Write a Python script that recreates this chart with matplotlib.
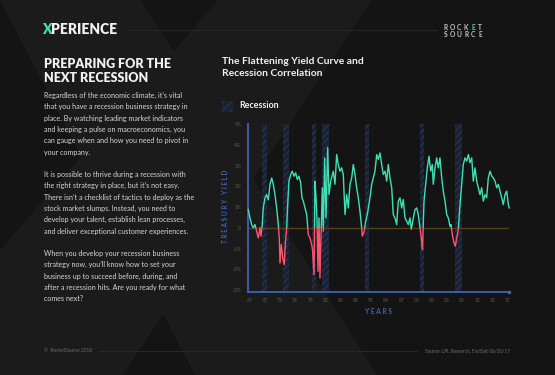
import matplotlib.pyplot as plt
from matplotlib.patches import Polygon, Rectangle

W, H = 555, 375


def fx(x): return x / W


def fy(y): return 1 - y / H


# --- data (10y-3m treasury spread, %) ---
years = [1966.80, 1967.14, 1967.47, 1967.79, 1968.12, 1968.46, 1968.78, 1969.11, 1969.31, 1969.56,
         1969.76, 1970.10, 1970.43, 1970.75, 1971.08, 1971.42, 1971.73, 1972.07, 1972.40, 1972.72,
         1972.92, 1973.06, 1973.31, 1973.59, 1973.90, 1974.10, 1974.38, 1974.57, 1974.83, 1975.17,
         1975.48, 1975.82, 1976.15, 1976.47, 1976.80, 1977.14, 1977.39, 1977.65, 1977.99, 1978.32,
         1978.64, 1978.97, 1979.31, 1979.50, 1979.76, 1979.96, 1980.16, 1980.35, 1980.55, 1980.75,
         1980.94, 1981.14, 1981.40, 1981.60, 1981.87, 1982.13, 1982.46, 1982.72, 1983.06, 1983.57,
         1983.90, 1984.24, 1984.55, 1984.89, 1985.22, 1985.54, 1985.88, 1986.21, 1986.53, 1986.86,
         1987.20, 1987.51, 1987.85, 1988.18, 1988.50, 1988.83, 1989.17, 1989.29, 1989.62, 1989.96,
         1990.27, 1990.81, 1991.14, 1991.46, 1991.79, 1992.13, 1992.44, 1992.78, 1993.11, 1993.43,
         1993.77, 1994.10, 1994.42, 1994.75, 1995.09, 1995.40, 1995.74, 1996.07, 1996.39, 1996.72,
         1997.06, 1997.37, 1997.71, 1998.05, 1998.36, 1998.70, 1998.95, 1999.35, 1999.68, 2000.02,
         2000.33, 2000.67, 2001.00, 2001.16, 2001.46, 2001.79, 2002.11, 2002.44, 2002.78, 2003.09,
         2003.29, 2003.63, 2003.96, 2004.28, 2004.61, 2004.95, 2005.26, 2005.60, 2005.94, 2006.25,
         2006.59, 2006.78, 2007.04, 2007.37, 2007.63, 2007.91, 2008.22, 2008.56, 2008.89, 2009.21,
         2009.54, 2009.88, 2010.20, 2010.53, 2010.87, 2011.18, 2011.52, 2011.85, 2012.17, 2012.50,
         2012.84, 2013.15, 2013.49, 2013.82, 2014.14, 2014.48, 2014.81, 2015.13, 2015.46, 2015.80,
         2016.11, 2016.45, 2016.78, 2017.10, 2017.43, 2017.77, 2018.09, 2018.28]
spread = [0.88, 0.48, 0.16, 0.00, 0.16, -0.16, -0.48, 0.00, -0.40, 0.16,
          0.96, 1.45, 1.60, 1.35, 2.10, 2.40, 2.10, 1.60, 0.96, 0.16,
          -0.48, -1.69, -0.80, -1.45, -1.77, -0.80, 0.00, 1.12, 2.25, 2.57,
          2.73, 2.49, 2.65, 2.33, 2.49, 2.17, 1.45, 1.29, 0.96, 0.64,
          -0.32, -0.48, -0.80, -1.10, -2.25, 2.25, 1.45, 0.48, -2.09, 0.48,
          -2.41, -0.48, 1.93, -0.16, 3.37, 0.48, 3.86, 1.60, 2.25, 2.73,
          2.10, 3.53, 3.05, 2.73, 2.89, 2.57, 0.64, 1.60, 0.96, 2.10,
          2.41, 3.05, 2.57, 1.93, 1.45, 0.80, 0.00, -0.40, -0.20, 0.32,
          0.64, 1.45, 2.10, 2.41, 2.73, 3.53, 3.30, 3.61, 3.05, 2.57,
          2.73, 2.25, 3.05, 2.41, 1.93, 0.64, 0.48, 0.16, 1.29, 1.45,
          0.96, 1.37, 0.48, 0.32, 0.16, 0.48, -0.08, 0.48, 0.88, 0.96,
          0.64, 0.00, -0.64, -1.04, 1.29, 2.09, 2.89, 3.45, 2.73, 3.05,
          2.10, 2.89, 3.37, 2.89, 3.37, 2.41, 1.77, 1.29, 0.64, 0.48,
          0.08, 0.16, -0.32, -0.72, -0.88, -0.48, -0.08, 1.12, 2.09, 3.05,
          3.37, 3.21, 3.53, 3.13, 3.37, 2.25, 2.89, 2.25, 1.93, 1.60,
          1.93, 1.29, 1.60, 1.45, 2.41, 2.73, 2.49, 2.41, 2.25, 1.93,
          2.09, 1.77, 1.45, 1.12, 1.60, 1.77, 1.12, 0.96]

rec_start = [1969.45, 1973.59, 1979.43, 1981.28, 1989.88, 2000.67, 2007.51]
rec_end = [1970.43, 1974.77, 1980.10, 1982.66, 1990.67, 2001.40, 2009.01]

x_ticks = [1967, 1970, 1973, 1976, 1979, 1982, 1985, 1988, 1991, 1994, 1997,
           2000, 2003, 2006, 2009, 2012, 2015, 2018]
x_labels = ['67', '70', '73', '76', '79', '82', '85', '88', '91', '94', '97',
            '00', '03', '06', '09', '12', '15', '17']
y_ticks = [-3, -2, -1, 0, 1, 2, 3, 4, 5]
y_labels = ['-3%', '-2%', '-1%', '0', '1%', '2%', '3%', '4%', '5%']

para1 = ["Regardless of the economic climate, it\u2019s vital",
         "that you have a recession business strategy in",
         "place. By watching leading market indicators",
         "and keeping a pulse on macroeconomics, you",
         "can gauge when and how you need to pivot in",
         "your company."]
para2 = ["It is possible to thrive during a recession with",
         "the right strategy in place, but it\u2019s not easy.",
         "There isn\u2019t a checklist of tactics to deploy as the",
         "stock market slumps. Instead, you need to",
         "develop your talent, establish lean processes,",
         "and deliver exceptional customer experiences."]
para3 = ["When you develop your recession business",
         "strategy now, you\u2019ll know how to set your",
         "business up to succeed before, during, and",
         "after a recession hits. Are you ready for what",
         "comes next?"]

BG = '#141414'
SHADE = '#1b1b1b'
TEAL = '#3fe0b2'
PINK = '#ff5470'
BLUE = '#3f63b5'
HATCH_FACE = '#1a2131'
HATCH_EDGE = '#2e3c5c'

plt.rcParams['font.family'] = ['Lato', 'DejaVu Sans']
plt.rcParams['hatch.linewidth'] = 0.6

fig = plt.figure(figsize=(5.55, 3.75), dpi=100)
fig.patch.set_facecolor(BG)

# background watermark
for pts in ([(0, 0), (141, 0), (377, 375), (195, 375)],
            [(218, 0), (372, 0), (0, 560), (0, 250)]):
    fig.add_artist(Polygon([(fx(a), fy(b)) for a, b in pts], closed=True,
                           transform=fig.transFigure, facecolor=SHADE,
                           edgecolor='none', zorder=-5))

# header
fig.text(fx(42), fy(30), 'X', color=TEAL, fontsize=10, fontweight='heavy', va='center', ha='left')
fig.text(fx(51), fy(30), 'PERIENCE', color='#f2f2f2', fontsize=10, fontweight='heavy',
         va='center', ha='left')
fig.add_artist(plt.Line2D([fx(128), fx(437)], [fy(30), fy(30)], color='#2a2a2a', lw=0.6,
                          transform=fig.transFigure))
for i, ch in enumerate('ROCKET'):
    fig.text(fx(445.5 + i * 6.9), fy(27.5), ch, color=TEAL if ch == 'E' else '#c8c8c8',
             fontsize=4.8, fontweight='bold', ha='center', va='center')
for i, ch in enumerate('SOURCE'):
    fig.text(fx(445.5 + i * 6.9), fy(34.5), ch, color='#c8c8c8',
             fontsize=4.8, fontweight='bold', ha='center', va='center')

# left column
fig.text(fx(44), fy(64), 'PREPARING FOR THE', color='#f2f2f2', fontsize=9.0,
         fontweight='heavy', va='center')
fig.text(fx(44), fy(78), 'NEXT RECESSION', color='#f2f2f2', fontsize=9.0,
         fontweight='heavy', va='center')
step = 11.35
for start, lines in ((95.5, para1), (174.5, para2), (253.5, para3)):
    for i, line in enumerate(lines):
        fig.text(fx(44), fy(start + i * step), line, color='#d6d6d6', fontsize=5.1, va='center')

# footer
fig.text(fx(44), fy(350.5), '\u00a9  RocketSource 2018', color='#6e6e6e', fontsize=3.4, va='center')
fig.add_artist(plt.Line2D([fx(99), fx(417)], [fy(350.5), fy(350.5)], color='#2a2a2a', lw=0.6,
                          transform=fig.transFigure))
fig.text(fx(510), fy(350.5), 'Source: LPL Research, FactSet 06/20/17', color='#6e6e6e',
         fontsize=3.4, va='center', ha='right')

# chart title and legend
fig.text(fx(222), fy(62), 'The Flattening Yield Curve and', color='#f2f2f2', fontsize=7.4,
         fontweight='bold', va='center')
fig.text(fx(222), fy(74), 'Recession Correlation', color='#f2f2f2', fontsize=7.4,
         fontweight='bold', va='center')
fig.add_artist(Rectangle((fx(222.3), fy(112)), fx(11), 11 / H, transform=fig.transFigure,
                         facecolor=HATCH_FACE, edgecolor=HATCH_EDGE, hatch='////', lw=0))
fig.text(fx(239.5), fy(106), 'Recession', color='#f2f2f2', fontsize=6.4, fontweight='bold',
         va='center')

# chart
ax = fig.add_axes([fx(247.5), fy(291.7), (509.3 - 247.5) / W, (291.7 - 124) / H])
ax.set_facecolor('none')
ax.set_xlim(1966.65, 2018.28)
ax.set_ylim(-3.07, 5.0)

for a, b in zip(rec_start, rec_end):
    ax.axvspan(a, b, facecolor=HATCH_FACE, edgecolor=HATCH_EDGE, hatch='/////', lw=0, zorder=1)

ax.axhline(0, color='#4f4220', lw=1.0, zorder=2)

teal_line, = ax.plot(years, spread, color=TEAL, lw=1.0, zorder=3)
pink_line, = ax.plot(years, spread, color=PINK, lw=1.0, zorder=3)
teal_line.set_clip_path(Rectangle((1950, 0), 80, 20, transform=ax.transData))
pink_line.set_clip_path(Rectangle((1950, -20), 80, 20, transform=ax.transData))

for s in ('top', 'right'):
    ax.spines[s].set_visible(False)
for s in ('left', 'bottom'):
    ax.spines[s].set_color(BLUE)
    ax.spines[s].set_linewidth(1.3)
ax.plot([2018.28], [-3.07], 'o', color=BLUE, ms=1.6, clip_on=False, zorder=5)

ax.set_xticks(x_ticks)
ax.set_xticklabels(x_labels)
ax.set_yticks(y_ticks)
ax.set_yticklabels(y_labels)
ax.tick_params(length=0, labelsize=3.6, labelcolor='#5c5c5c', pad=4.5)

fig.text(fx(225.5), fy(206), 'T R E A S U R Y   Y I E L D', color=BLUE, fontsize=4.7,
         fontweight='bold', rotation=90, ha='center', va='center')
fig.text(fx(378.4), fy(311), 'Y E A R S', color=BLUE, fontsize=4.8, fontweight='bold',
         ha='center', va='center')

fig.savefig('out.png', dpi=100, facecolor=BG)
